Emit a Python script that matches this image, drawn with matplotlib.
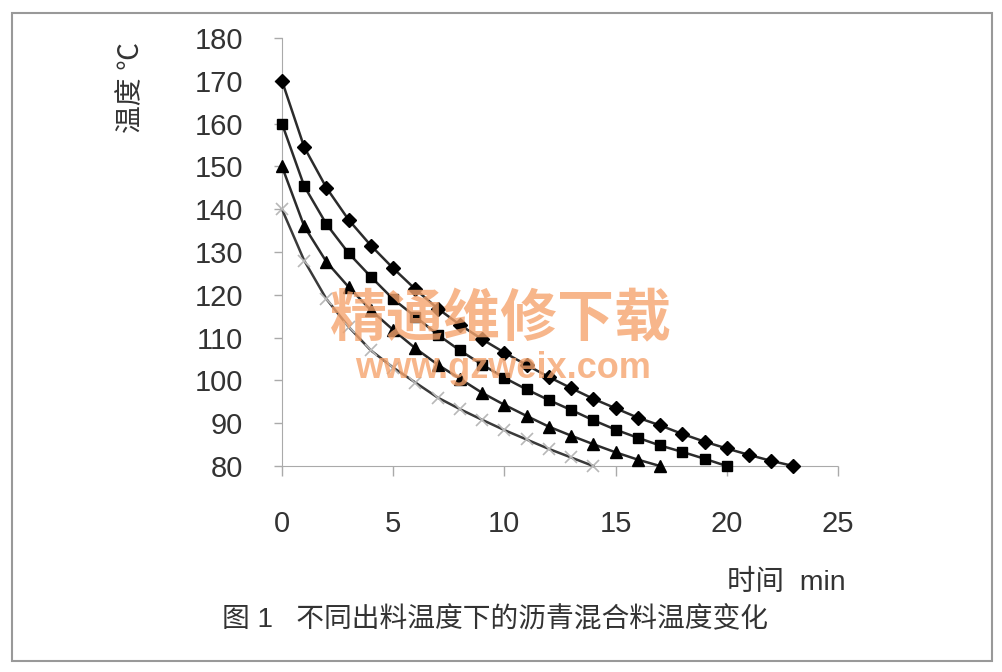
import numpy as np
import matplotlib
matplotlib.use("Agg")
import matplotlib.pyplot as plt
from matplotlib.patches import Rectangle

plt.rcParams['font.family'] = ['Liberation Sans', 'Noto Sans CJK SC', 'DejaVu Sans']

# temperature (°C) read per minute for each discharge temperature
t_170 = [170, 154.5, 145, 137.5, 131.5, 126.2, 121.3, 116.8, 113, 109.6, 106.5, 103.6,
         100.8, 98.2, 95.7, 93.5, 91.3, 89.5, 87.5, 85.7, 84.1, 82.6, 81.2, 80]
t_160 = [160, 145.4, 136.5, 129.7, 124.2, 119, 114.9, 110.7, 107, 103.7, 100.6, 97.9,
         95.4, 93.1, 90.7, 88.5, 86.6, 84.8, 83.3, 81.7, 80]
t_150 = [150, 136, 127.7, 121.8, 116.4, 111.8, 107.5, 103.7, 100.4, 97.1, 94.3, 91.7,
         89.2, 87.1, 85.1, 83.2, 81.5, 80]
t_140 = [140, 128, 119, 112.5, 107, 103, 99.5, 96, 93.3, 90.8, 88.4, 86.2, 84, 82, 80]

x_ticks = [0, 5, 10, 15, 20, 25]
y_ticks = [80, 90, 100, 110, 120, 130, 140, 150, 160, 170, 180]

fig = plt.figure(figsize=(10.02, 6.72), dpi=100)
ax = fig.add_axes([0.2814, 0.3065, 0.5549, 0.637])

line_col = '#2b2b2b'
ax.plot(np.arange(len(t_170)), t_170, color=line_col, lw=1.8, marker='D',
        ms=7, mfc='black', mec='black', zorder=4, clip_on=False)
ax.plot(np.arange(len(t_160)), t_160, color=line_col, lw=1.8, marker='s',
        ms=7.5, mfc='black', mec='black', zorder=4, clip_on=False)
ax.plot(np.arange(len(t_150)), t_150, color=line_col, lw=1.8, marker='^',
        ms=8.5, mfc='black', mec='black', zorder=4, clip_on=False)
ax.plot(np.arange(len(t_140)), t_140, color='#3a3a3a', lw=1.8, zorder=3, clip_on=False)
ax.plot(np.arange(len(t_140)), t_140, ls='none', marker='x', ms=9, mew=1.2,
        color='#b8b8b8', zorder=5, clip_on=False)

ax.set_xlim(0, 25)
ax.set_ylim(80, 180)
ax.set_xticks(x_ticks)
ax.set_yticks(y_ticks)
ax.tick_params(axis='y', direction='out', length=6, width=1, color='#aaaaaa',
               labelsize=21, labelcolor='#333333', pad=22)
ax.tick_params(axis='x', direction='out', length=7, width=1, color='#aaaaaa',
               labelsize=21, labelcolor='#333333', pad=25)

for side in ['top', 'right']:
    ax.spines[side].set_visible(False)
ax.spines['left'].set_color('#aaaaaa')
ax.spines['bottom'].set_color('#aaaaaa')
ax.spines['bottom'].set_linestyle((0, (2, 1)))
ax.patch.set_alpha(0)

fig.text(0.132, 0.87, '温度 ℃', rotation=90, ha='center', va='center',
         fontsize=20, color='#333333')
fig.text(0.785, 0.132, '时间  min', ha='center', va='center', fontsize=20.5,
         color='#333333')
fig.text(0.494, 0.077, '图 1   不同出料温度下的沥青混合料温度变化', ha='center',
         va='center', fontsize=20, color='#333333')

# watermark of the scanned source
fig.text(0.5, 0.522, '精通维修下载', ha='center', va='center', fontsize=41,
         fontweight='bold', color='#f5a46e', alpha=0.8, zorder=10)
fig.text(0.502, 0.452, 'www.gzweix.com', ha='center', va='center', fontsize=26,
         fontweight='bold', color='#f5a46e', alpha=0.8, zorder=10)

fig.patches.append(Rectangle((0.012, 0.016), 0.978, 0.964, transform=fig.transFigure,
                             fill=False, edgecolor='#999999', lw=1.5))

fig.savefig('out.png', dpi=100)
